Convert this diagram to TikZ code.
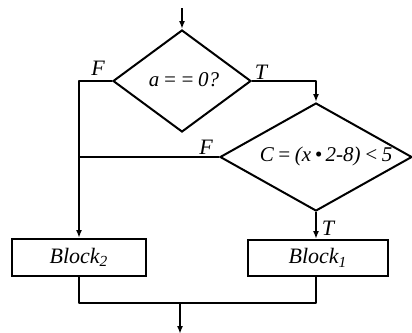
\documentclass[tikz,border=0pt]{standalone}
\usepackage{fontspec}
\setmainfont{Liberation Serif}
\usepackage{tikz}
\usetikzlibrary{positioning,arrows.meta,shapes.geometric,calc}
\tikzset{
  decide/.style = {draw, diamond, inner sep=0pt, line width=1pt},
  blk/.style    = {draw, rectangle, inner sep=0pt, line width=1pt, font=\fontsize{11}{13}\selectfont\itshape},
  txt/.style    = {inner sep=0pt, font=\fontsize{10.5}{12}\selectfont\itshape},
  lbl/.style    = {inner sep=0pt, font=\fontsize{11}{13}\selectfont\itshape},
  wire/.style   = {line width=1pt, line join=round},
  flow/.style   = {wire, -{Latex[length=4pt,width=3pt]}},
}

\begin{document}
\begin{tikzpicture}[x=0.5pt, y=-0.5pt]
  \useasboundingbox (0,0) rectangle (412,332);
  \node[decide, minimum width=69pt, minimum height=51pt] (test) at (182,81) {};
  \node[txt] (testtxt) at (184,80) {a\,=\,=\,0?};
  \node[decide, minimum width=96pt, minimum height=54pt] (cond) at (316,157) {};
  \node[txt] (condtxt) at (326,156) {C\,=\,(x\,\textbullet\,2-8)\,<\,5};
  \node[blk, minimum width=67pt, minimum height=18.5pt] (blocktwo) at (79,257.5) {Block\textsubscript{2}};
  \node[blk, minimum width=70pt, minimum height=18pt] (blockone) at (318,258) {Block\textsubscript{1}};
  \coordinate (entry) at (182,8);
  \coordinate (join) at (180,303);
  \coordinate (exit) at (180,334);
  % branch labels
  \node[lbl] (ftest) at ([shift={(-7pt,6.5pt)}]test.west) {F};
  \node[lbl] (ttest) at ([shift={(4.5pt,4.5pt)}]test.east) {T};
  \node[lbl] (fcond) at ([shift={(-6.5pt,5pt)}]cond.west) {F};
  \node[lbl] (tcond) at ([shift={(6pt,-8pt)}]cond.south) {T};
  % connectors
  \draw[flow] (entry) -- (test.north);
  \draw[flow] (test.east) -| (cond.north);
  \draw[flow] (test.west) -| (blocktwo.north);
  \draw[wire] (cond.west) -- (cond.west -| blocktwo.north);
  \draw[flow] (cond.south) -- (cond.south |- blockone.north);
  \draw[wire] (blocktwo.south) |- (join) -| (cond.south |- blockone.south);
  \draw[flow] (join) -- (exit);
\end{tikzpicture}
\end{document}
